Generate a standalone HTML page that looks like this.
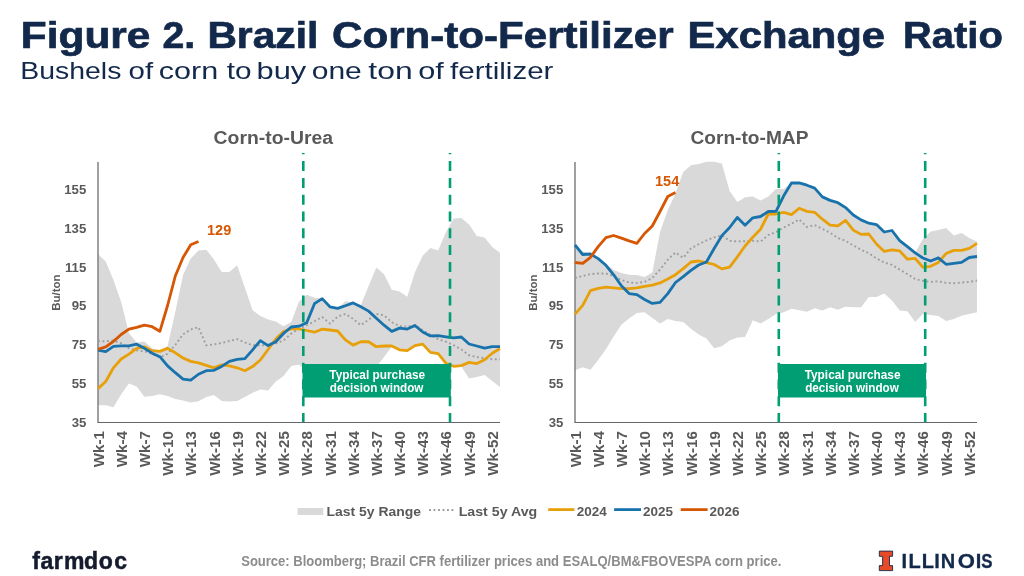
<!DOCTYPE html>
<html><head><meta charset="utf-8"><style>
html,body{margin:0;padding:0;background:#fff;}
body{width:1024px;height:576px;overflow:hidden;}
svg{display:block;font-family:"Liberation Sans", sans-serif;will-change:transform;}
</style></head><body>
<svg width="1024" height="576" viewBox="0 0 1024 576">
<rect width="1024" height="576" fill="#fff"/>
<text x="20.89" y="48.4" font-size="37" font-weight="bold" fill="#13294B" stroke="#13294B" stroke-width="0.7" textLength="129.47" lengthAdjust="spacingAndGlyphs">Figure</text>
<text x="162.43" y="48.4" font-size="37" font-weight="bold" fill="#13294B" stroke="#13294B" stroke-width="0.7" textLength="32.69" lengthAdjust="spacingAndGlyphs">2.</text>
<text x="207.4" y="48.4" font-size="37" font-weight="bold" fill="#13294B" stroke="#13294B" stroke-width="0.7" textLength="111.02" lengthAdjust="spacingAndGlyphs">Brazil</text>
<text x="332.04" y="48.4" font-size="37" font-weight="bold" fill="#13294B" stroke="#13294B" stroke-width="0.7" textLength="341.59" lengthAdjust="spacingAndGlyphs">Corn-to-Fertilizer</text>
<text x="687.53" y="48.4" font-size="37" font-weight="bold" fill="#13294B" stroke="#13294B" stroke-width="0.7" textLength="197.49" lengthAdjust="spacingAndGlyphs">Exchange</text>
<text x="903.06" y="48.4" font-size="37" font-weight="bold" fill="#13294B" stroke="#13294B" stroke-width="0.7" textLength="99.71" lengthAdjust="spacingAndGlyphs">Ratio</text>
<text x="20.33" y="78.8" font-size="24" fill="#13294B" textLength="101.01" lengthAdjust="spacingAndGlyphs">Bushels</text>
<text x="128.57" y="78.8" font-size="24" fill="#13294B" textLength="24.55" lengthAdjust="spacingAndGlyphs">of</text>
<text x="158.73" y="78.8" font-size="24" fill="#13294B" textLength="59.42" lengthAdjust="spacingAndGlyphs">corn</text>
<text x="226.69" y="78.8" font-size="24" fill="#13294B" textLength="24.77" lengthAdjust="spacingAndGlyphs">to</text>
<text x="256.57" y="78.8" font-size="24" fill="#13294B" textLength="49.68" lengthAdjust="spacingAndGlyphs">buy</text>
<text x="311.75" y="78.8" font-size="24" fill="#13294B" textLength="50.05" lengthAdjust="spacingAndGlyphs">one</text>
<text x="368.37" y="78.8" font-size="24" fill="#13294B" textLength="44.27" lengthAdjust="spacingAndGlyphs">ton</text>
<text x="418.22" y="78.8" font-size="24" fill="#13294B" textLength="25.6" lengthAdjust="spacingAndGlyphs">of</text>
<text x="450.09" y="78.8" font-size="24" fill="#13294B" textLength="103.34" lengthAdjust="spacingAndGlyphs">fertilizer</text>
<polygon points="98.00,254.00 105.73,261.50 113.46,280.00 121.19,302.00 128.92,333.00 136.65,342.50 144.38,341.60 152.12,348.50 159.85,351.00 167.58,346.00 175.31,312.00 183.04,275.00 190.77,258.50 198.50,250.60 206.23,249.70 213.96,259.40 221.69,272.10 229.42,272.10 237.15,265.30 244.88,287.80 252.62,310.20 260.35,316.10 268.08,319.60 275.81,321.40 283.54,326.20 291.27,322.00 299.00,301.60 306.73,294.75 314.46,297.80 322.19,298.60 329.92,306.80 337.65,308.40 345.38,301.20 353.12,302.50 360.85,305.00 368.58,286.00 376.31,267.40 384.04,274.20 391.77,289.80 399.50,291.40 407.23,296.70 414.96,272.30 422.69,255.70 430.42,247.90 438.15,250.40 445.88,232.20 453.62,218.60 461.35,218.00 469.08,224.40 476.81,236.10 484.54,237.50 492.27,246.90 500.00,252.70 500.00,387.00 492.27,381.00 484.54,375.00 476.81,377.00 469.08,378.50 461.35,366.50 453.62,366.30 445.88,363.20 438.15,353.60 430.42,352.40 422.69,344.10 414.96,345.60 407.23,350.60 399.50,349.80 391.77,346.50 384.04,357.00 376.31,367.00 368.58,375.00 360.85,372.00 353.12,372.00 345.38,372.00 337.65,372.00 329.92,372.00 322.19,372.00 314.46,372.00 306.73,372.00 299.00,364.50 291.27,366.00 283.54,376.00 275.81,381.50 268.08,390.50 260.35,389.50 252.62,392.80 244.88,397.10 237.15,401.00 229.42,401.60 221.69,401.00 213.96,395.10 206.23,397.10 198.50,401.20 190.77,402.40 183.04,400.60 175.31,399.10 167.58,396.10 159.85,394.20 152.12,396.10 144.38,396.80 136.65,386.60 128.92,383.40 121.19,394.20 113.46,407.20 105.73,405.30 98.00,405.30" fill="#D9D9D9"/>
<line x1="98" y1="162" x2="98" y2="422.5" stroke="#808080" stroke-width="1.5"/>
<line x1="97.5" y1="422.5" x2="500" y2="422.5" stroke="#666" stroke-width="1.2"/>
<polyline points="98.00,341.00 105.73,341.40 113.46,340.50 121.19,343.40 128.92,348.30 136.65,350.30 144.38,351.20 152.12,354.10 159.85,357.40 167.58,353.80 175.31,345.00 183.04,334.30 190.77,329.50 198.50,327.20 206.23,345.30 213.96,344.40 221.69,343.00 229.42,341.00 237.15,339.10 244.88,342.40 252.62,345.30 260.35,345.30 268.08,345.30 275.81,343.40 283.54,340.50 291.27,333.60 299.00,328.50 306.73,325.40 314.46,321.30 322.19,317.00 329.92,323.60 337.65,316.60 345.38,313.90 353.12,318.90 360.85,325.20 368.58,319.70 376.31,313.90 384.04,315.40 391.77,322.20 399.50,326.10 407.23,326.70 414.96,325.20 422.69,330.00 430.42,334.90 438.15,339.20 445.88,341.60 453.62,345.20 461.35,349.50 469.08,355.30 476.81,357.00 484.54,358.20 492.27,359.20 500.00,359.40" fill="none" stroke="#9E9E9E" stroke-width="1.9" stroke-dasharray="1.9 2.6" stroke-linejoin="round"/>
<polyline points="98.00,388.60 105.73,381.50 113.46,367.80 121.19,359.00 128.92,354.10 136.65,348.30 144.38,346.80 152.12,350.70 159.85,351.40 167.58,348.35 175.31,352.80 183.04,358.00 190.77,361.40 198.50,362.90 206.23,365.30 213.96,367.80 221.69,364.90 229.42,365.90 237.15,367.80 244.88,370.70 252.62,366.60 260.35,360.00 268.08,349.50 275.81,339.00 283.54,331.50 291.27,328.70 299.00,328.80 306.73,330.50 314.46,332.20 322.19,329.10 329.92,330.00 337.65,331.00 345.38,339.80 353.12,345.10 360.85,341.75 368.58,341.75 376.31,346.70 384.04,346.00 391.77,346.00 399.50,349.80 407.23,350.60 414.96,345.60 422.69,344.10 430.42,352.40 438.15,353.60 445.88,363.20 453.62,366.30 461.35,365.60 469.08,362.40 476.81,363.60 484.54,359.80 492.27,353.30 500.00,348.50" fill="none" stroke="#E8A00A" stroke-width="2.8" stroke-linejoin="round"/>
<polyline points="98.00,350.20 105.73,351.60 113.46,346.30 121.19,345.90 128.92,345.90 136.65,344.20 144.38,348.35 152.12,353.15 159.85,356.70 167.58,365.90 175.31,372.70 183.04,379.10 190.77,380.10 198.50,374.25 206.23,370.70 213.96,370.30 221.69,366.40 229.42,361.40 237.15,359.40 244.88,358.60 252.62,349.80 260.35,340.60 268.08,345.60 275.81,341.80 283.54,333.50 291.27,327.00 299.00,326.20 306.73,322.80 314.46,303.70 322.19,298.60 329.92,306.80 337.65,308.40 345.38,305.70 353.12,302.90 360.85,306.80 368.58,311.10 376.31,318.20 384.04,325.20 391.77,331.40 399.50,328.10 407.23,329.10 414.96,325.50 422.69,332.00 430.42,335.90 438.15,335.70 445.88,336.80 453.62,337.90 461.35,337.00 469.08,344.00 476.81,346.00 484.54,348.20 492.27,346.70 500.00,346.70" fill="none" stroke="#1872AC" stroke-width="2.8" stroke-linejoin="round"/>
<polyline points="98.00,349.25 105.73,346.90 113.46,341.40 121.19,334.50 128.92,329.20 136.65,327.35 144.38,325.20 152.12,326.70 159.85,331.30 167.58,305.50 175.31,276.00 183.04,257.50 190.77,244.80 198.50,241.50" fill="none" stroke="#D55703" stroke-width="2.8" stroke-linejoin="round"/>
<line x1="303.3" y1="153" x2="303.3" y2="422" stroke="#009E72" stroke-width="2.6" stroke-dasharray="10 6.8" stroke-dashoffset="8.7"/>
<line x1="450.0" y1="153" x2="450.0" y2="422" stroke="#009E72" stroke-width="2.6" stroke-dasharray="10 6.8" stroke-dashoffset="8.7"/>
<rect x="302.5" y="364" width="148.29999999999998" height="33.5" fill="#009E72"/>
<text x="377.25" y="378.8" text-anchor="middle" font-size="12" font-weight="bold" fill="#fff" textLength="95.8" lengthAdjust="spacingAndGlyphs">Typical purchase</text>
<text x="376.65" y="392.2" text-anchor="middle" font-size="12" font-weight="bold" fill="#fff" textLength="93.6" lengthAdjust="spacingAndGlyphs">decision window</text>
<text x="213.60000000000002" y="143.75" font-size="19.2" font-weight="bold" fill="#595959" textLength="119.49999999999999" lengthAdjust="spacingAndGlyphs">Corn-to-Urea</text>
<text x="86.3" y="426.55" text-anchor="end" font-size="13.2" font-weight="bold" fill="#595959">35</text>
<text x="86.3" y="387.80" text-anchor="end" font-size="13.2" font-weight="bold" fill="#595959">55</text>
<text x="86.3" y="349.05" text-anchor="end" font-size="13.2" font-weight="bold" fill="#595959">75</text>
<text x="86.3" y="310.30" text-anchor="end" font-size="13.2" font-weight="bold" fill="#595959">95</text>
<text x="86.3" y="271.55" text-anchor="end" font-size="13.2" font-weight="bold" fill="#595959">115</text>
<text x="86.3" y="232.80" text-anchor="end" font-size="13.2" font-weight="bold" fill="#595959">135</text>
<text x="86.3" y="194.05" text-anchor="end" font-size="13.2" font-weight="bold" fill="#595959">155</text>
<text transform="translate(103.60,431.2) rotate(-90)" text-anchor="end" font-size="15.1" font-weight="bold" fill="#595959">Wk-1</text>
<text transform="translate(126.79,431.2) rotate(-90)" text-anchor="end" font-size="15.1" font-weight="bold" fill="#595959">Wk-4</text>
<text transform="translate(149.98,431.2) rotate(-90)" text-anchor="end" font-size="15.1" font-weight="bold" fill="#595959">Wk-7</text>
<text transform="translate(173.18,431.2) rotate(-90)" text-anchor="end" font-size="15.1" font-weight="bold" fill="#595959">Wk-10</text>
<text transform="translate(196.37,431.2) rotate(-90)" text-anchor="end" font-size="15.1" font-weight="bold" fill="#595959">Wk-13</text>
<text transform="translate(219.56,431.2) rotate(-90)" text-anchor="end" font-size="15.1" font-weight="bold" fill="#595959">Wk-16</text>
<text transform="translate(242.75,431.2) rotate(-90)" text-anchor="end" font-size="15.1" font-weight="bold" fill="#595959">Wk-19</text>
<text transform="translate(265.95,431.2) rotate(-90)" text-anchor="end" font-size="15.1" font-weight="bold" fill="#595959">Wk-22</text>
<text transform="translate(289.14,431.2) rotate(-90)" text-anchor="end" font-size="15.1" font-weight="bold" fill="#595959">Wk-25</text>
<text transform="translate(312.33,431.2) rotate(-90)" text-anchor="end" font-size="15.1" font-weight="bold" fill="#595959">Wk-28</text>
<text transform="translate(335.52,431.2) rotate(-90)" text-anchor="end" font-size="15.1" font-weight="bold" fill="#595959">Wk-31</text>
<text transform="translate(358.72,431.2) rotate(-90)" text-anchor="end" font-size="15.1" font-weight="bold" fill="#595959">Wk-34</text>
<text transform="translate(381.91,431.2) rotate(-90)" text-anchor="end" font-size="15.1" font-weight="bold" fill="#595959">Wk-37</text>
<text transform="translate(405.10,431.2) rotate(-90)" text-anchor="end" font-size="15.1" font-weight="bold" fill="#595959">Wk-40</text>
<text transform="translate(428.29,431.2) rotate(-90)" text-anchor="end" font-size="15.1" font-weight="bold" fill="#595959">Wk-43</text>
<text transform="translate(451.48,431.2) rotate(-90)" text-anchor="end" font-size="15.1" font-weight="bold" fill="#595959">Wk-46</text>
<text transform="translate(474.68,431.2) rotate(-90)" text-anchor="end" font-size="15.1" font-weight="bold" fill="#595959">Wk-49</text>
<text transform="translate(497.87,431.2) rotate(-90)" text-anchor="end" font-size="15.1" font-weight="bold" fill="#595959">Wk-52</text>
<text transform="translate(60,292.6) rotate(-90)" text-anchor="middle" font-size="11.5" font-weight="bold" fill="#595959">Bu/ton</text>
<text x="207" y="235.2" font-size="14.5" font-weight="bold" fill="#D55703">129</text>
<polygon points="575.00,249.00 582.73,251.50 590.46,253.50 598.19,257.50 605.92,263.50 613.65,270.00 621.38,273.00 629.12,274.70 636.85,275.10 644.58,277.00 652.31,272.50 660.04,232.00 667.77,210.00 675.50,193.50 683.23,172.00 690.96,165.30 698.69,164.00 706.42,161.80 714.15,161.80 721.88,163.50 729.62,191.00 737.35,202.00 745.08,197.30 752.81,196.60 760.54,200.50 768.27,196.60 776.00,189.10 783.73,189.10 791.46,183.00 799.19,182.90 806.92,185.20 814.65,188.10 822.38,196.90 830.12,200.40 837.85,202.70 845.58,207.60 853.31,215.00 861.04,219.90 868.77,223.20 876.50,224.60 884.23,232.00 891.96,230.50 899.69,240.60 907.42,246.70 915.15,252.80 922.88,238.90 930.62,231.60 938.35,230.00 946.08,228.10 953.81,235.50 961.54,233.00 969.27,237.90 977.00,241.40 977.00,312.20 969.27,314.10 961.54,315.70 953.81,319.00 946.08,321.00 938.35,316.10 930.62,315.10 922.88,314.10 915.15,322.00 907.42,311.20 899.69,310.60 891.96,300.50 884.23,293.60 876.50,296.90 868.77,296.90 861.04,307.30 853.31,307.30 845.58,306.70 837.85,309.80 830.12,307.30 822.38,310.60 814.65,308.30 806.92,311.80 799.19,310.20 791.46,308.70 783.73,312.20 776.00,314.10 768.27,319.00 760.54,323.50 752.81,320.30 745.08,337.10 737.35,337.50 729.62,340.50 721.88,346.30 714.15,348.30 706.42,338.50 698.69,334.60 690.96,328.70 683.23,322.00 675.50,321.00 667.77,319.00 660.04,323.50 652.31,318.00 644.58,312.20 636.85,313.00 629.12,318.50 621.38,324.80 613.65,336.60 605.92,349.25 598.19,360.00 590.46,369.75 582.73,367.20 575.00,370.30" fill="#D9D9D9"/>
<line x1="575" y1="162" x2="575" y2="422.5" stroke="#808080" stroke-width="1.5"/>
<line x1="574.5" y1="422.5" x2="977" y2="422.5" stroke="#666" stroke-width="1.2"/>
<polyline points="575.00,278.00 582.73,276.00 590.46,274.10 598.19,273.50 605.92,273.50 613.65,276.00 621.38,280.00 629.12,282.50 636.85,282.90 644.58,281.90 652.31,278.00 660.04,269.50 667.77,259.70 675.50,252.50 683.23,257.80 690.96,248.40 698.69,244.20 706.42,240.40 714.15,237.40 721.88,235.30 729.62,240.90 737.35,241.40 745.08,241.20 752.81,240.70 760.54,241.50 768.27,235.00 776.00,232.20 783.73,227.50 791.46,223.70 799.19,219.50 806.92,227.00 814.65,225.10 822.38,228.90 830.12,232.70 837.85,238.00 845.58,240.90 853.31,245.40 861.04,249.70 868.77,253.20 876.50,258.50 884.23,262.40 891.96,264.90 899.69,269.60 907.42,274.10 915.15,279.00 922.88,280.90 930.62,281.90 938.35,281.30 946.08,282.90 953.81,283.30 961.54,282.50 969.27,281.90 977.00,280.50" fill="none" stroke="#9E9E9E" stroke-width="1.9" stroke-dasharray="1.9 2.6" stroke-linejoin="round"/>
<polyline points="575.00,314.10 582.73,305.30 590.46,290.70 598.19,288.30 605.92,287.20 613.65,287.80 621.38,288.70 629.12,288.70 636.85,287.80 644.58,286.40 652.31,285.20 660.04,282.90 667.77,279.00 675.50,274.70 683.23,268.60 690.96,262.00 698.69,261.00 706.42,262.70 714.15,264.50 721.88,268.90 729.62,267.20 737.35,256.80 745.08,246.00 752.81,237.20 760.54,229.25 768.27,214.00 776.00,214.00 783.73,212.40 791.46,214.60 799.19,208.30 806.92,211.40 814.65,212.30 822.38,219.20 830.12,225.15 837.85,225.80 845.58,220.30 853.31,230.10 861.04,234.40 868.77,234.00 876.50,244.00 884.23,251.40 891.96,249.85 899.69,250.90 907.42,259.20 915.15,258.45 922.88,267.25 930.62,266.30 938.35,262.40 946.08,253.55 953.81,250.35 961.54,250.35 969.27,248.35 977.00,243.40" fill="none" stroke="#E8A00A" stroke-width="2.8" stroke-linejoin="round"/>
<polyline points="575.00,245.00 582.73,254.50 590.46,254.00 598.19,258.60 605.92,265.30 613.65,274.80 621.38,285.80 629.12,293.60 636.85,294.60 644.58,299.50 652.31,303.40 660.04,302.40 667.77,293.60 675.50,282.50 683.23,276.70 690.96,270.40 698.69,265.00 706.42,262.00 714.15,248.50 721.88,235.60 729.62,227.50 737.35,217.40 745.08,225.15 752.81,217.80 760.54,216.50 768.27,211.50 776.00,211.30 783.73,195.80 791.46,183.00 799.19,182.90 806.92,185.20 814.65,188.10 822.38,196.90 830.12,200.40 837.85,202.70 845.58,207.60 853.31,215.00 861.04,219.90 868.77,223.20 876.50,224.60 884.23,232.00 891.96,230.50 899.69,240.60 907.42,246.70 915.15,252.80 922.88,258.00 930.62,261.00 938.35,257.85 946.08,264.30 953.81,263.30 961.54,262.40 969.27,257.50 977.00,256.50" fill="none" stroke="#1872AC" stroke-width="2.8" stroke-linejoin="round"/>
<polyline points="575.00,262.50 582.73,263.40 590.46,257.30 598.19,246.60 605.92,237.60 613.65,235.50 621.38,238.10 629.12,240.90 636.85,243.30 644.58,233.50 652.31,226.00 660.04,211.50 667.77,196.50 675.50,192.60" fill="none" stroke="#D55703" stroke-width="2.8" stroke-linejoin="round"/>
<line x1="778.8" y1="153" x2="778.8" y2="422" stroke="#009E72" stroke-width="2.6" stroke-dasharray="10 6.8" stroke-dashoffset="8.7"/>
<line x1="925.2" y1="153" x2="925.2" y2="422" stroke="#009E72" stroke-width="2.6" stroke-dasharray="10 6.8" stroke-dashoffset="8.7"/>
<rect x="778.0" y="364" width="148.00000000000009" height="33.5" fill="#009E72"/>
<text x="852.6" y="378.8" text-anchor="middle" font-size="12" font-weight="bold" fill="#fff" textLength="95.8" lengthAdjust="spacingAndGlyphs">Typical purchase</text>
<text x="852.0" y="392.2" text-anchor="middle" font-size="12" font-weight="bold" fill="#fff" textLength="93.6" lengthAdjust="spacingAndGlyphs">decision window</text>
<text x="690.5" y="143.75" font-size="19.2" font-weight="bold" fill="#595959" textLength="117.8999999999999" lengthAdjust="spacingAndGlyphs">Corn-to-MAP</text>
<text x="563.3" y="426.55" text-anchor="end" font-size="13.2" font-weight="bold" fill="#595959">35</text>
<text x="563.3" y="387.80" text-anchor="end" font-size="13.2" font-weight="bold" fill="#595959">55</text>
<text x="563.3" y="349.05" text-anchor="end" font-size="13.2" font-weight="bold" fill="#595959">75</text>
<text x="563.3" y="310.30" text-anchor="end" font-size="13.2" font-weight="bold" fill="#595959">95</text>
<text x="563.3" y="271.55" text-anchor="end" font-size="13.2" font-weight="bold" fill="#595959">115</text>
<text x="563.3" y="232.80" text-anchor="end" font-size="13.2" font-weight="bold" fill="#595959">135</text>
<text x="563.3" y="194.05" text-anchor="end" font-size="13.2" font-weight="bold" fill="#595959">155</text>
<text transform="translate(580.60,431.2) rotate(-90)" text-anchor="end" font-size="15.1" font-weight="bold" fill="#595959">Wk-1</text>
<text transform="translate(603.79,431.2) rotate(-90)" text-anchor="end" font-size="15.1" font-weight="bold" fill="#595959">Wk-4</text>
<text transform="translate(626.98,431.2) rotate(-90)" text-anchor="end" font-size="15.1" font-weight="bold" fill="#595959">Wk-7</text>
<text transform="translate(650.18,431.2) rotate(-90)" text-anchor="end" font-size="15.1" font-weight="bold" fill="#595959">Wk-10</text>
<text transform="translate(673.37,431.2) rotate(-90)" text-anchor="end" font-size="15.1" font-weight="bold" fill="#595959">Wk-13</text>
<text transform="translate(696.56,431.2) rotate(-90)" text-anchor="end" font-size="15.1" font-weight="bold" fill="#595959">Wk-16</text>
<text transform="translate(719.75,431.2) rotate(-90)" text-anchor="end" font-size="15.1" font-weight="bold" fill="#595959">Wk-19</text>
<text transform="translate(742.95,431.2) rotate(-90)" text-anchor="end" font-size="15.1" font-weight="bold" fill="#595959">Wk-22</text>
<text transform="translate(766.14,431.2) rotate(-90)" text-anchor="end" font-size="15.1" font-weight="bold" fill="#595959">Wk-25</text>
<text transform="translate(789.33,431.2) rotate(-90)" text-anchor="end" font-size="15.1" font-weight="bold" fill="#595959">Wk-28</text>
<text transform="translate(812.52,431.2) rotate(-90)" text-anchor="end" font-size="15.1" font-weight="bold" fill="#595959">Wk-31</text>
<text transform="translate(835.72,431.2) rotate(-90)" text-anchor="end" font-size="15.1" font-weight="bold" fill="#595959">Wk-34</text>
<text transform="translate(858.91,431.2) rotate(-90)" text-anchor="end" font-size="15.1" font-weight="bold" fill="#595959">Wk-37</text>
<text transform="translate(882.10,431.2) rotate(-90)" text-anchor="end" font-size="15.1" font-weight="bold" fill="#595959">Wk-40</text>
<text transform="translate(905.29,431.2) rotate(-90)" text-anchor="end" font-size="15.1" font-weight="bold" fill="#595959">Wk-43</text>
<text transform="translate(928.48,431.2) rotate(-90)" text-anchor="end" font-size="15.1" font-weight="bold" fill="#595959">Wk-46</text>
<text transform="translate(951.68,431.2) rotate(-90)" text-anchor="end" font-size="15.1" font-weight="bold" fill="#595959">Wk-49</text>
<text transform="translate(974.87,431.2) rotate(-90)" text-anchor="end" font-size="15.1" font-weight="bold" fill="#595959">Wk-52</text>
<text transform="translate(537,292.6) rotate(-90)" text-anchor="middle" font-size="11.5" font-weight="bold" fill="#595959">Bu/ton</text>
<text x="655" y="186.1" font-size="14.5" font-weight="bold" fill="#D55703">154</text>
<rect x="297.6" y="508" width="25.7" height="7" fill="#D9D9D9"/>
<text x="326.5" y="515.6" font-size="13.5" font-weight="bold" fill="#595959" textLength="94.5" lengthAdjust="spacingAndGlyphs">Last 5y Range</text>
<line x1="429" y1="510" x2="454" y2="510" stroke="#9E9E9E" stroke-width="1.9" stroke-dasharray="1.9 2.6"/>
<text x="458.7" y="515.6" font-size="13.5" font-weight="bold" fill="#595959" textLength="78.5" lengthAdjust="spacingAndGlyphs">Last 5y Avg</text>
<line x1="548.2" y1="509.6" x2="574.4" y2="509.6" stroke="#E8A00A" stroke-width="2.8"/>
<text x="576.8" y="515.6" font-size="13.5" font-weight="bold" fill="#595959">2024</text>
<line x1="614.1" y1="509.6" x2="641" y2="509.6" stroke="#1872AC" stroke-width="2.8"/>
<text x="643" y="515.6" font-size="13.5" font-weight="bold" fill="#595959">2025</text>
<line x1="680.7" y1="509.6" x2="707.6" y2="509.6" stroke="#D55703" stroke-width="2.8"/>
<text x="709.6" y="515.6" font-size="13.5" font-weight="bold" fill="#595959">2026</text>
<text x="32.2 40.4 53.8 63.9 84.1 98.8 114.2" y="569.1" font-size="23" font-weight="bold" fill="#141B2E" stroke="#141B2E" stroke-width="0.5">farmdoc</text>
<text x="241.2" y="565.5" font-size="14" font-weight="bold" fill="#8C8C8C" textLength="540.2" lengthAdjust="spacingAndGlyphs">Source: Bloomberg; Brazil CFR fertilizer prices and ESALQ/BM&amp;FBOVESPA corn price.</text>
<path d="M879.3,551.1 H892.6 V556.3 H889.5 V565.6 H892.6 V570.6 H879.3 V565.6 H882.6 V556.3 H879.3 Z" fill="#E84A27" stroke="#13294B" stroke-width="0.9"/>
<text x="901.4 908.4 921.7 934.2 940.7" y="568.1" font-size="20" font-weight="bold" fill="#13294B" stroke="#13294B" stroke-width="0.3">ILLIN</text>
<text x="957.7" y="568.1" font-size="20" font-weight="bold" fill="#13294B" stroke="#13294B" stroke-width="0.3" textLength="17.2" lengthAdjust="spacingAndGlyphs">O</text>
<text x="975.7" y="568.1" font-size="20" font-weight="bold" fill="#13294B" stroke="#13294B" stroke-width="0.3">I</text>
<text x="981.3" y="568.1" font-size="20" font-weight="bold" fill="#13294B" stroke="#13294B" stroke-width="0.3" textLength="11.25" lengthAdjust="spacingAndGlyphs">S</text>
</svg>
</body></html>
